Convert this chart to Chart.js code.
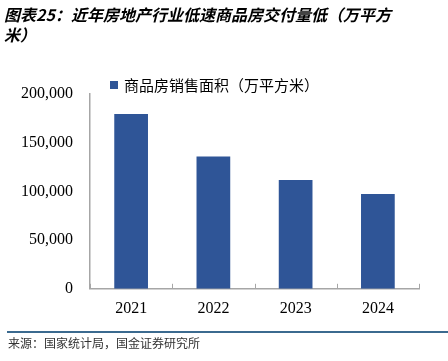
<!DOCTYPE html>
<html>
<head>
<meta charset="utf-8">
<script src="https://cdn.jsdelivr.net/npm/chart.js@4.4.1/dist/chart.umd.min.js"></script>
<style>
  html, body { margin: 0; padding: 0; background: #fff; }
  #wrap { width: 448px; height: 361px; }
</style>
</head>
<body>
<div id="wrap"><canvas id="myChart1" width="448" height="361"></canvas></div>
<script>
// data
var years = ['2021', '2022', '2023', '2024'];
var salesArea = [179433, 135837, 111735, 97385];
var yTicks = [0, 50000, 100000, 150000, 200000];

var serif = "'Liberation Serif', 'DejaVu Serif', serif";
var cjk = "'Noto Sans CJK SC', sans-serif";
var barColor = '#2f5597';

// legend, footer rule + source line, and the small inward ticks on the x axis
var extras = {
    id: 'extras',
    afterDraw: function(chart) {
        var c = chart.ctx;
        var x = chart.scales.x;
        var area = chart.chartArea;
        c.save();
        c.strokeStyle = '#a6a6a6';
        c.lineWidth = 1;
        var n = years.length;
        for (var i = 0; i <= n; i++) {
            var px;
            if (i === 0) px = area.left;
            else if (i === n) px = area.right;
            else px = (x.getPixelForValue(i - 1) + x.getPixelForValue(i)) / 2;
            px = Math.round(px) + 0.5;
            c.beginPath();
            c.moveTo(px, area.bottom);
            c.lineTo(px, area.bottom - 5);
            c.stroke();
        }
        // legend
        c.fillStyle = barColor;
        c.fillRect(110, 81, 8, 8);
        c.fillStyle = '#000';
        c.font = '15px ' + cjk;
        c.textBaseline = 'middle';
        c.fillText(chart.data.datasets[0].label, 124, 85);
        // footer
        c.strokeStyle = '#3b6a8f';
        c.lineWidth = 2;
        c.beginPath();
        c.moveTo(7, 332);
        c.lineTo(448, 332);
        c.stroke();
        c.fillStyle = '#333';
        c.font = '12px ' + cjk;
        c.fillText('来源：国家统计局，国金证券研究所', 8, 343);
        c.restore();
    }
};

var ctx = document.getElementById('myChart1').getContext('2d');
var myChart1 = new Chart(ctx, {
    type: 'bar',
    data: {
        labels: years,
        datasets: [{
            label: '商品房销售面积（万平方米）',
            data: salesArea,
            backgroundColor: barColor,
            borderColor: barColor,
            categoryPercentage: 1,
            barPercentage: 0.41
        }]
    },
    options: {
        responsive: false,
        animation: false,
        layout: {
            padding: { left: 4, right: 29, bottom: 33, top: 0 }
        },
        plugins: {
            title: {
                display: true,
                text: ['图表25：近年房地产行业低速商品房交付量低（万平方', '米）'],
                align: 'start',
                color: '#000',
                padding: { top: 5, bottom: 49 },
                font: {
                    family: cjk,
                    weight: 'bold',
                    style: 'italic',
                    size: 16,
                    lineHeight: 1.25
                }
            },
            legend: { display: false },
            tooltip: { enabled: false }
        },
        scales: {
            x: {
                grid: { display: false, drawTicks: false },
                border: { display: true, color: '#a6a6a6', width: 1.5 },
                ticks: {
                    color: '#000',
                    padding: 10,
                    font: { family: serif, size: 16 }
                }
            },
            y: {
                min: 0,
                max: 200000,
                afterBuildTicks: function(axis) {
                    axis.ticks = yTicks.map(function(v) { return { value: v }; });
                },
                grid: { display: false, drawTicks: false },
                border: { display: true, color: '#a6a6a6', width: 1.5 },
                ticks: {
                    color: '#000',
                    padding: 17,
                    font: { family: serif, size: 16 }
                }
            }
        }
    },
    plugins: [extras]
});
</script>
</body>
</html>
